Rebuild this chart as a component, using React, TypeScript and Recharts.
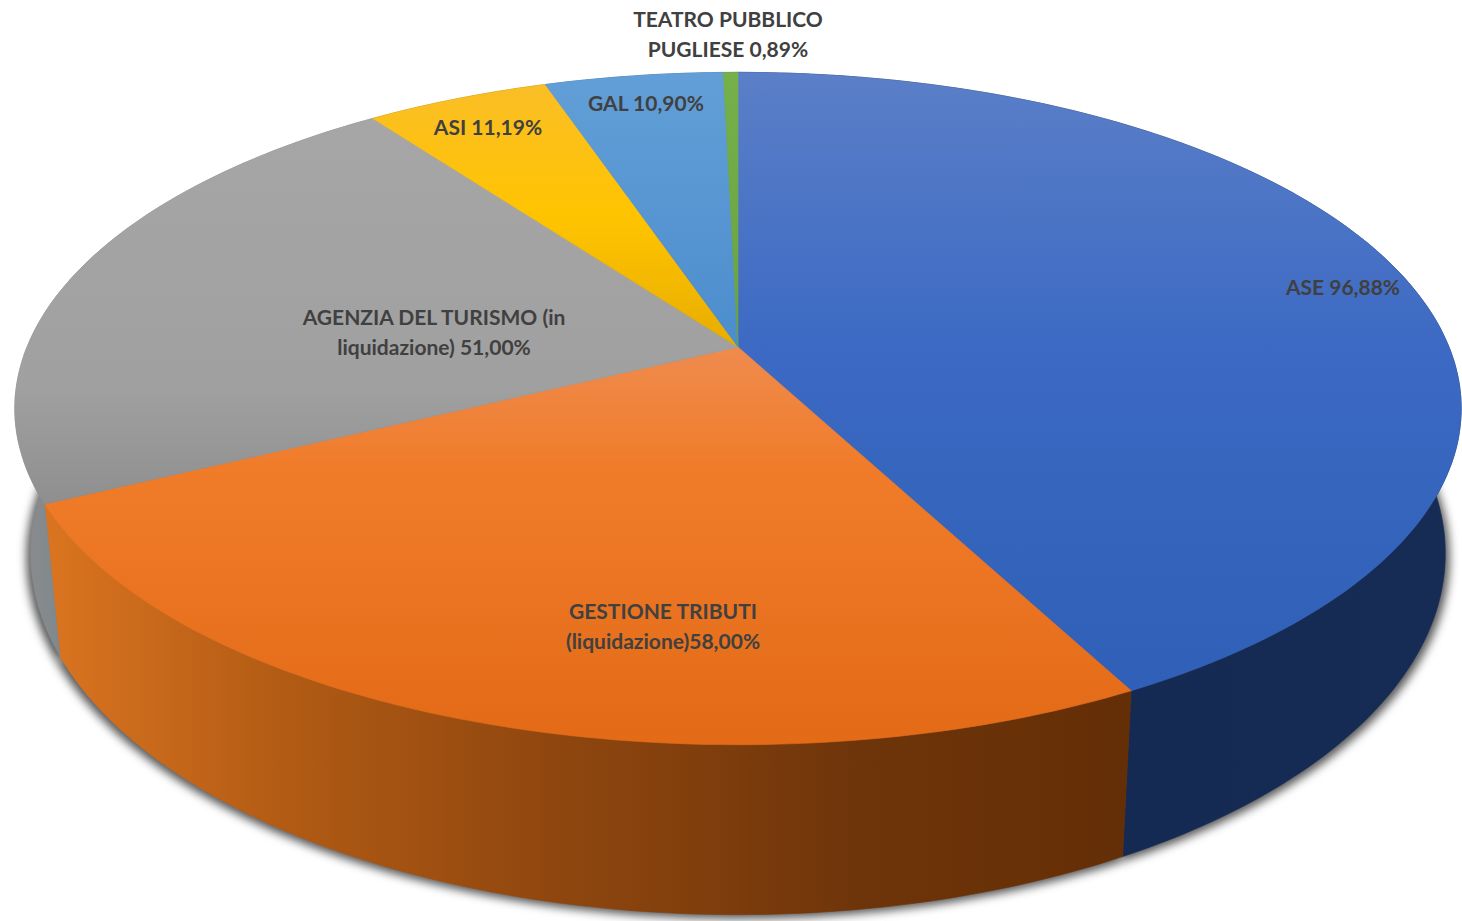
import React from "react"
import { PieChart, Pie } from "recharts"

const names = [
  "ASE",
  "GESTIONE TRIBUTI",
  "AGENZIA DEL TURISMO",
  "ASI",
  "GAL",
  "TEATRO PUBBLICO PUGLIESE",
]
const values = [96.88, 58.0, 51.0, 11.19, 10.9, 0.89]
const labelLines = [
  ["ASE 96,88%"],
  ["GESTIONE TRIBUTI", "(liquidazione)58,00%"],
  ["AGENZIA DEL TURISMO (in", "liquidazione) 51,00%"],
  ["ASI 11,19%"],
  ["GAL 10,90%"],
  ["TEATRO PUBBLICO", "PUGLIESE 0,89%"],
]

const data = names.map((name, i) => ({ name, value: values[i] }))

const WIDTH = 1462
const HEIGHT = 921
const CX = 738
const CY = 347
const RADIUS = 711

// label anchor (centre x, first line y)
const labelSpots = [
  [1343, 286],
  [663, 610],
  [434, 316],
  [488, 126],
  [646, 102],
  [728, 18],
]

// perspective tilt of the pie plane
const TILT = 0.183
const FLATTEN = 0.457

function project(angle: number, cx: number, cy: number, r: number) {
  const rad = ((90 - angle) * Math.PI) / 180
  const u = Math.sin(rad)
  const v = -Math.cos(rad)
  const w = 1 - TILT * v
  return [cx + (r * u) / w, cy + (r * FLATTEN * v) / w]
}

// where a point of the top face lands on the underside
function drop([x, y]: number[], cx: number) {
  return [cx + (x - cx) * 0.978, y * 1.0744 + 152 - 0.0744 * 503]
}

function arcPoints(p: any) {
  const { startAngle, endAngle, cx, cy, outerRadius } = p
  const steps = Math.max(2, Math.ceil(Math.abs(endAngle - startAngle)))
  const pts: number[][] = []
  for (let i = 0; i <= steps; i++) {
    pts.push(project(startAngle + ((endAngle - startAngle) * i) / steps, cx, cy, outerRadius))
  }
  return pts
}

const toPath = (pts: number[][]) =>
  "M" + pts.map(([x, y]) => `${x.toFixed(1)} ${y.toFixed(1)}`).join("L") + "Z"

function TopFace(props: any) {
  const pts = arcPoints(props)
  return (
    <path
      d={toPath([[props.cx, props.cy], ...pts])}
      fill={`url(#top${props.index})`}
      stroke={`url(#top${props.index})`}
      strokeWidth={0.6}
    />
  )
}

function Wall(props: any) {
  const pts = arcPoints(props)
  const lower = pts.map((p) => drop(p, props.cx)).reverse()
  return (
    <path
      d={toPath([...pts, ...lower])}
      fill={`url(#wall${props.index})`}
      stroke={`url(#wall${props.index})`}
      strokeWidth={0.6}
    />
  )
}

// soft shadow: same outline as the underside, a touch bigger
function Shadow(props: any) {
  const pts = arcPoints(props).map((p) => {
    const [x, y] = drop(p, props.cx)
    return [props.cx + (x - props.cx) * 1.006, y + 4]
  })
  return (
    <path
      d={toPath([[props.cx, 500], ...pts])}
      fill="#2a2a2a"
      fillOpacity={0.8}
      style={{ filter: "blur(5px)" }}
    />
  )
}

function SliceLabel(props: any) {
  const [x, y] = labelSpots[props.index]
  return (
    <text
      x={x}
      y={y}
      textAnchor="middle"
      dominantBaseline="central"
      fontFamily="Lato, sans-serif"
      fontWeight={700}
      fontSize={21}
      fill="#404040"
    >
      {labelLines[props.index].map((line, i) => (
        <tspan key={line} x={x} dy={i === 0 ? 0 : 30}>
          {line}
        </tspan>
      ))}
    </text>
  )
}

const grad = (id: string, stops: [number, string][], horizontal: boolean, a: number, b: number) => (
  <linearGradient
    key={id}
    id={id}
    gradientUnits="userSpaceOnUse"
    x1={horizontal ? a : 0}
    x2={horizontal ? b : 0}
    y1={horizontal ? 0 : a}
    y2={horizontal ? 0 : b}
  >
    {stops.map(([o, c]) => (
      <stop key={o} offset={o} stopColor={c} />
    ))}
  </linearGradient>
)

export default function App() {
  return (
    <div style={{ position: "absolute", left: 0, top: 0, width: WIDTH, height: HEIGHT, background: "#fff", overflow: "hidden" }}>
      <PieChart width={WIDTH} height={HEIGHT} margin={{ top: 0, right: 0, bottom: 0, left: 0 }}>
        <defs>
          {grad("top0", [[0, "#5b7fc8"], [0.45, "#3b69c3"], [1, "#2f5fb6"]], false, 72, 700)}
          {grad("top1", [[0, "#ef8b4e"], [0.3, "#f07c2a"], [1, "#e36a17"]], false, 347, 745)}
          {grad("top2", [[0, "#a6a6a6"], [0.7, "#a0a0a0"], [1, "#8f8f8f"]], false, 118, 503)}
          {grad("top3", [[0, "#fabe28"], [0.5, "#ffc400"], [1, "#e8ad00"]], false, 83, 347)}
          {grad("top4", [[0, "#629fd8"], [1, "#4c8dcc"]], false, 72, 347)}
          {grad("top5", [[0, "#75b04b"], [1, "#69a341"]], false, 72, 347)}
          {grad("wall0", [[0, "#152a52"], [1, "#162c55"]], true, 1120, 1460)}
          {grad("wall1", [[0, "#da7420"], [0.23, "#b05a14"], [0.45, "#92480f"], [0.75, "#6f350a"], [1, "#642e06"]], true, 47, 1125)}
          {grad("wall2", [[0, "#8d8d8d"], [1, "#7f888c"]], true, 15, 62)}
          {grad("wall3", [[0, "#a07800"], [1, "#a07800"]], true, 0, WIDTH)}
          {grad("wall4", [[0, "#37608a"], [1, "#37608a"]], true, 0, WIDTH)}
          {grad("wall5", [[0, "#466d2c"], [1, "#466d2c"]], true, 0, WIDTH)}
        </defs>
        <Pie
          data={data}
          dataKey="value"
          nameKey="name"
          cx={CX}
          cy={CY}
          outerRadius={RADIUS}
          startAngle={90}
          endAngle={-270}
          isAnimationActive={false}
          shape={Shadow}
        />
        <Pie
          data={data}
          dataKey="value"
          nameKey="name"
          cx={CX}
          cy={CY}
          outerRadius={RADIUS}
          startAngle={90}
          endAngle={-270}
          isAnimationActive={false}
          shape={Wall}
        />
        <Pie
          data={data}
          dataKey="value"
          nameKey="name"
          cx={CX}
          cy={CY}
          outerRadius={RADIUS}
          startAngle={90}
          endAngle={-270}
          isAnimationActive={false}
          shape={TopFace}
          label={SliceLabel}
          labelLine={false}
        />
      </PieChart>
    </div>
  )
}
